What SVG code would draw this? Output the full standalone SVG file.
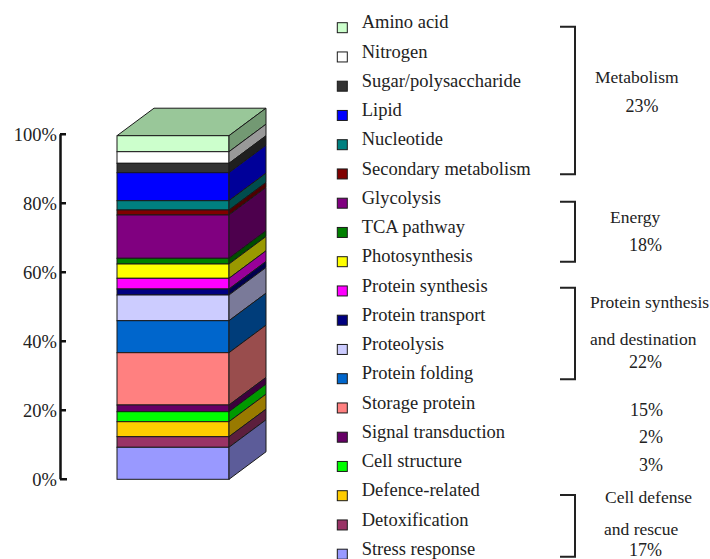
<svg xmlns="http://www.w3.org/2000/svg" width="710" height="559" viewBox="0 0 710 559">
<style>
text{font-family:"Liberation Serif","Times New Roman",serif;fill:#222}
.ax{font-size:18.5px;text-anchor:end}
.lg{font-size:18.5px}
.grp{font-size:17.5px}
.pc{font-size:18px;text-anchor:end}
.seg{stroke:#1a1a1a;stroke-width:1}
.sq{stroke:#1a1a1a;stroke-width:1}
.br{fill:none;stroke:#222;stroke-width:2}
.axl{stroke:#111;stroke-width:2.5;fill:none}
</style>
<rect width="710" height="559" fill="#fff"/>
<g id="axis">
<path class="axl" d="M60.5 134.3V479.3M60 134.3H66M60 203.3H66M60 272.3H66M60 341.3H66M60 410.3H66M60 479.3H67"/>
<text class="ax" x="57" y="140.5">100%</text>
<text class="ax" x="57" y="209.5">80%</text>
<text class="ax" x="57" y="278.5">60%</text>
<text class="ax" x="57" y="347.5">40%</text>
<text class="ax" x="57" y="416.5">20%</text>
<text class="ax" x="57" y="485.5">0%</text>
</g>
<g id="bar">
<polygon class="seg" points="117,135.7 229,135.7 266,108.2 154,108.2" fill="#99c799"/>
<g id="seg-amino"><rect class="seg" x="117" y="135.7" width="112" height="16" fill="#ccffcc"/><polygon class="seg" points="229,135.7 266,108.2 266,124.2 229,151.7" fill="#739973"/></g>
<g id="seg-nitrogen"><rect class="seg" x="117" y="151.7" width="112" height="11.6" fill="#ffffff"/><polygon class="seg" points="229,151.7 266,124.2 266,135.8 229,163.3" fill="#999999"/></g>
<g id="seg-sugar"><rect class="seg" x="117" y="163.3" width="112" height="9.4" fill="#333333"/><polygon class="seg" points="229,163.3 266,135.8 266,145.2 229,172.7" fill="#1f1f1f"/></g>
<g id="seg-lipid"><rect class="seg" x="117" y="172.7" width="112" height="28" fill="#0000ff"/><polygon class="seg" points="229,172.7 266,145.2 266,173.2 229,200.7" fill="#000099"/></g>
<g id="seg-nucleotide"><rect class="seg" x="117" y="200.7" width="112" height="9.3" fill="#008080"/><polygon class="seg" points="229,200.7 266,173.2 266,182.5 229,210" fill="#004d4d"/></g>
<g id="seg-secondary"><rect class="seg" x="117" y="210" width="112" height="5" fill="#800000"/><polygon class="seg" points="229,210 266,182.5 266,187.5 229,215" fill="#4d0000"/></g>
<g id="seg-glycolysis"><rect class="seg" x="117" y="215" width="112" height="43.3" fill="#800080"/><polygon class="seg" points="229,215 266,187.5 266,230.8 229,258.3" fill="#4d004d"/></g>
<g id="seg-tca"><rect class="seg" x="117" y="258.3" width="112" height="5.7" fill="#008000"/><polygon class="seg" points="229,258.3 266,230.8 266,236.5 229,264" fill="#004d00"/></g>
<g id="seg-photo"><rect class="seg" x="117" y="264" width="112" height="14.3" fill="#ffff00"/><polygon class="seg" points="229,264 266,236.5 266,250.8 229,278.3" fill="#999900"/></g>
<g id="seg-psynth"><rect class="seg" x="117" y="278.3" width="112" height="10.7" fill="#ff00ff"/><polygon class="seg" points="229,278.3 266,250.8 266,261.5 229,289" fill="#990099"/></g>
<g id="seg-ptrans"><rect class="seg" x="117" y="289" width="112" height="6" fill="#000080"/><polygon class="seg" points="229,289 266,261.5 266,267.5 229,295" fill="#00004d"/></g>
<g id="seg-proteolysis"><rect class="seg" x="117" y="295" width="112" height="25.7" fill="#ccccff"/><polygon class="seg" points="229,295 266,267.5 266,293.2 229,320.7" fill="#7a7a99"/></g>
<g id="seg-pfold"><rect class="seg" x="117" y="320.7" width="112" height="32" fill="#0066cc"/><polygon class="seg" points="229,320.7 266,293.2 266,325.2 229,352.7" fill="#003d7a"/></g>
<g id="seg-storage"><rect class="seg" x="117" y="352.7" width="112" height="52.3" fill="#ff8080"/><polygon class="seg" points="229,352.7 266,325.2 266,377.5 229,405" fill="#994d4d"/></g>
<g id="seg-signal"><rect class="seg" x="117" y="405" width="112" height="6.7" fill="#660066"/><polygon class="seg" points="229,405 266,377.5 266,384.2 229,411.7" fill="#3d003d"/></g>
<g id="seg-cell"><rect class="seg" x="117" y="411.7" width="112" height="10" fill="#00ff00"/><polygon class="seg" points="229,411.7 266,384.2 266,394.2 229,421.7" fill="#009900"/></g>
<g id="seg-defence"><rect class="seg" x="117" y="421.7" width="112" height="15" fill="#ffcc00"/><polygon class="seg" points="229,421.7 266,394.2 266,409.2 229,436.7" fill="#997a00"/></g>
<g id="seg-detox"><rect class="seg" x="117" y="436.7" width="112" height="10.6" fill="#993366"/><polygon class="seg" points="229,436.7 266,409.2 266,419.8 229,447.3" fill="#5c1f3d"/></g>
<g id="seg-stress"><rect class="seg" x="117" y="447.3" width="112" height="32" fill="#9999ff"/><polygon class="seg" points="229,447.3 266,419.8 266,451.8 229,479.3" fill="#5c5c99"/></g>
</g>
<g id="legend">
<g id="leg-amino" transform="translate(0,28.3)"><rect class="sq" x="337.3" y="-5.6" width="10" height="10" fill="#ccffcc"/><text class="lg" x="361.7" y="0">Amino acid</text></g>
<g id="leg-nitrogen" transform="translate(0,57.55)"><rect class="sq" x="337.3" y="-5.6" width="10" height="10" fill="#ffffff"/><text class="lg" x="361.7" y="0">Nitrogen</text></g>
<g id="leg-sugar" transform="translate(0,86.8)"><rect class="sq" x="337.3" y="-5.6" width="10" height="10" fill="#333333"/><text class="lg" x="361.7" y="0">Sugar/polysaccharide</text></g>
<g id="leg-lipid" transform="translate(0,116.05)"><rect class="sq" x="337.3" y="-5.6" width="10" height="10" fill="#0000ff"/><text class="lg" x="361.7" y="0">Lipid</text></g>
<g id="leg-nucleotide" transform="translate(0,145.3)"><rect class="sq" x="337.3" y="-5.6" width="10" height="10" fill="#008080"/><text class="lg" x="361.7" y="0">Nucleotide</text></g>
<g id="leg-secondary" transform="translate(0,174.55)"><rect class="sq" x="337.3" y="-5.6" width="10" height="10" fill="#800000"/><text class="lg" x="361.7" y="0">Secondary metabolism</text></g>
<g id="leg-glycolysis" transform="translate(0,203.8)"><rect class="sq" x="337.3" y="-5.6" width="10" height="10" fill="#800080"/><text class="lg" x="361.7" y="0">Glycolysis</text></g>
<g id="leg-tca" transform="translate(0,233.05)"><rect class="sq" x="337.3" y="-5.6" width="10" height="10" fill="#008000"/><text class="lg" x="361.7" y="0">TCA pathway</text></g>
<g id="leg-photo" transform="translate(0,262.3)"><rect class="sq" x="337.3" y="-5.6" width="10" height="10" fill="#ffff00"/><text class="lg" x="361.7" y="0">Photosynthesis</text></g>
<g id="leg-psynth" transform="translate(0,291.55)"><rect class="sq" x="337.3" y="-5.6" width="10" height="10" fill="#ff00ff"/><text class="lg" x="361.7" y="0">Protein synthesis</text></g>
<g id="leg-ptrans" transform="translate(0,320.8)"><rect class="sq" x="337.3" y="-5.6" width="10" height="10" fill="#000080"/><text class="lg" x="361.7" y="0">Protein transport</text></g>
<g id="leg-proteolysis" transform="translate(0,350.05)"><rect class="sq" x="337.3" y="-5.6" width="10" height="10" fill="#ccccff"/><text class="lg" x="361.7" y="0">Proteolysis</text></g>
<g id="leg-pfold" transform="translate(0,379.3)"><rect class="sq" x="337.3" y="-5.6" width="10" height="10" fill="#0066cc"/><text class="lg" x="361.7" y="0">Protein folding</text></g>
<g id="leg-storage" transform="translate(0,408.55)"><rect class="sq" x="337.3" y="-5.6" width="10" height="10" fill="#ff8080"/><text class="lg" x="361.7" y="0">Storage protein</text></g>
<g id="leg-signal" transform="translate(0,437.8)"><rect class="sq" x="337.3" y="-5.6" width="10" height="10" fill="#660066"/><text class="lg" x="361.7" y="0">Signal transduction</text></g>
<g id="leg-cell" transform="translate(0,467.05)"><rect class="sq" x="337.3" y="-5.6" width="10" height="10" fill="#00ff00"/><text class="lg" x="361.7" y="0">Cell structure</text></g>
<g id="leg-defence" transform="translate(0,496.3)"><rect class="sq" x="337.3" y="-5.6" width="10" height="10" fill="#ffcc00"/><text class="lg" x="361.7" y="0">Defence-related</text></g>
<g id="leg-detox" transform="translate(0,525.55)"><rect class="sq" x="337.3" y="-5.6" width="10" height="10" fill="#993366"/><text class="lg" x="361.7" y="0">Detoxification</text></g>
<g id="leg-stress" transform="translate(0,554.8)"><rect class="sq" x="337.3" y="-5.6" width="10" height="10" fill="#9999ff"/><text class="lg" x="361.7" y="0">Stress response</text></g>
</g>
<g id="brackets">
<path class="br" d="M560 26.7H575V174.3H560"/>
<path class="br" d="M560 201.7H575V261.7H560"/>
<path class="br" d="M560 287.7H575V379.3H560"/>
<path class="br" d="M560 495H575V556.7H560"/>
</g>
<g id="groups">
<text class="grp" x="595" y="83.3">Metabolism</text>
<text class="pc" x="658.5" y="111.7">23%</text>
<text class="grp" x="610" y="223.3">Energy</text>
<text class="pc" x="662" y="250.7">18%</text>
<text class="grp" x="590" y="308.3">Protein synthesis</text>
<text class="grp" x="590" y="345">and destination</text>
<text class="pc" x="662" y="368.3">22%</text>
<text class="pc" x="663" y="415.7">15%</text>
<text class="pc" x="663" y="443">2%</text>
<text class="pc" x="663" y="470.5">3%</text>
<text class="grp" x="605" y="503.3">Cell defense</text>
<text class="grp" x="604" y="534.5">and rescue</text>
<text class="pc" x="662" y="555.5">17%</text>
</g>
</svg>
